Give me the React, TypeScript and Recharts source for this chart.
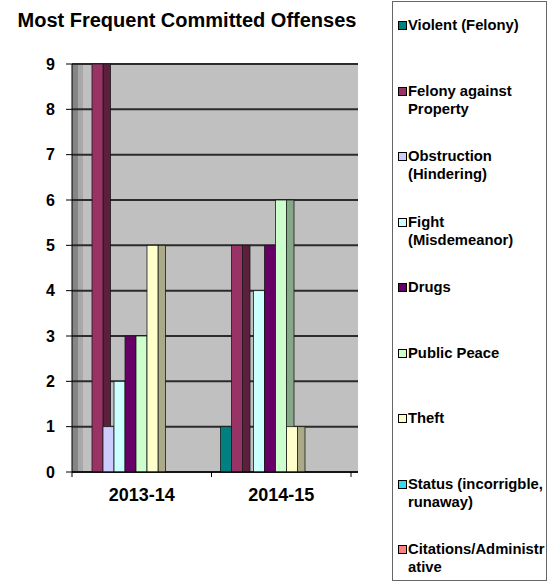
import React from "react";
import { BarChart, Bar, XAxis, YAxis, CartesianGrid } from "recharts";

// values
const periods = ["2013-14", "2014-15"];
const violent = [0, 1];
const felonyProperty = [9, 5];
const obstruction = [1, 0];
const fight = [2, 4];
const drugs = [3, 5];
const publicPeace = [3, 6];
const theft = [5, 1];
const status = [0, 0];
const citations = [0, 0];
const yTicks = [0, 1, 2, 3, 4, 5, 6, 7, 8, 9];

const series = [
  { key: "violent", name: "Violent (Felony)", values: violent, color: "#008080", side: "#004d4d" },
  { key: "felony", name: "Felony against Property", values: felonyProperty, color: "#993366", side: "#5c1f3d" },
  { key: "obstruction", name: "Obstruction (Hindering)", values: obstruction, color: "#ccccff", side: "#7a7a99" },
  { key: "fight", name: "Fight (Misdemeanor)", values: fight, color: "#ccffff", side: "#7a9999" },
  { key: "drugs", name: "Drugs", values: drugs, color: "#660066", side: "#3d003d" },
  { key: "peace", name: "Public Peace", values: publicPeace, color: "#ccffcc", side: "#86a886" },
  { key: "theft", name: "Theft", values: theft, color: "#ffffcc", side: "#aaaa88" },
  { key: "status", name: "Status (incorrigble, runaway)", values: status, color: "#33ddee", side: "#1f8490" },
  { key: "citations", name: "Citations/Administrative", values: citations, color: "#ff8080", side: "#994d4d" },
];

const data = periods.map((period, i) => {
  const row: Record<string, any> = { period };
  series.forEach((s) => {
    row[s.key] = s.values[i];
  });
  return row;
});

const FONT = '"Liberation Sans", Arial, sans-serif';
const W = 558;
const H = 584;
const PLOT_LEFT = 72;
const PLOT_RIGHT = 358;
const PLOT_TOP = 64;
const PLOT_BOTTOM = 472;
const PAD_RIGHT = 7;
const BAND = (PLOT_RIGHT - PAD_RIGHT - PLOT_LEFT) / periods.length;
const SHIFT = 11; // front faces sit a little left of the floor ticks
const DEPTH = 7.5;

const Bar3D = (props: any) => {
  const { x, y, width, height, fill, side } = props;
  if (!height || height <= 0) return null;
  const fx = x - SHIFT;
  return (
    <g>
      <rect x={fx + width} y={y} width={DEPTH} height={height} fill={side} stroke="#1a1a1a" strokeWidth={0.8} />
      <rect x={fx} y={y} width={width} height={height} fill={fill} stroke="#1a1a1a" strokeWidth={0.8} />
    </g>
  );
};

const PeriodTick = (props: any) => {
  const { x, payload } = props;
  return (
    <g>
      <line x1={x - BAND / 2} x2={x - BAND / 2} y1={PLOT_BOTTOM} y2={PLOT_BOTTOM + 5} stroke="#000" />
      <line x1={x + BAND / 2} x2={x + BAND / 2} y1={PLOT_BOTTOM} y2={PLOT_BOTTOM + 5} stroke="#000" />
      <text x={x} y={PLOT_BOTTOM + 29} textAnchor="middle" fontSize={18} fontWeight="bold" fill="#000" fontFamily={FONT}>
        {payload.value}
      </text>
    </g>
  );
};

const LegendBox = () => (
  <div
    style={{
      position: "absolute",
      left: 392,
      top: 1,
      width: 155,
      height: 580,
      border: "1.5px solid #666",
      boxSizing: "border-box",
      background: "#fff",
      fontFamily: FONT,
      fontWeight: "bold",
      fontSize: 14.8,
      lineHeight: "18px",
      color: "#000",
    }}
  >
    {series.map((s, i) => (
      <div key={s.key} style={{ position: "absolute", left: 0, top: 14 + i * 65.5, width: 155 }}>
        <span
          style={{
            position: "absolute",
            left: 5,
            top: 5,
            width: 7,
            height: 7,
            background: s.color,
            border: "1px solid #000",
          }}
        />
        <div style={{ marginLeft: 15, width: 138, overflowWrap: "anywhere" }}>{s.name}</div>
      </div>
    ))}
  </div>
);

const App = () => {
  return (
    <div style={{ position: "absolute", left: 0, top: 0, width: W, height: H, background: "#fff" }}>
      <div
        style={{
          position: "absolute",
          left: 0,
          top: 8,
          width: 374,
          textAlign: "center",
          fontFamily: FONT,
          fontWeight: "bold",
          fontSize: 20,
          lineHeight: "24px",
          color: "#000",
        }}
      >
        Most Frequent Committed Offenses
      </div>
      <BarChart
        width={W}
        height={H}
        data={data}
        margin={{ top: PLOT_TOP, right: W - PLOT_RIGHT, bottom: H - PLOT_BOTTOM - 30, left: 0 }}
        barGap={0}
        barSize={11}
      >
        <defs>
          <linearGradient id="wall" x1="0" y1="0" x2="1" y2="0">
            <stop offset="0%" stopColor="#858585" />
            <stop offset="2.1%" stopColor="#858585" />
            <stop offset="2.1%" stopColor="#a8a8a8" />
            <stop offset="3.8%" stopColor="#a8a8a8" />
            <stop offset="3.8%" stopColor="#c0c0c0" />
            <stop offset="100%" stopColor="#c0c0c0" />
          </linearGradient>
        </defs>
        <CartesianGrid vertical={false} stroke="#2b2b2b" strokeWidth={2} fill="url(#wall)" fillOpacity={1} />
        <XAxis
          dataKey="period"
          height={30}
          padding={{ left: 0, right: PAD_RIGHT }}
          axisLine={{ stroke: "#000" }}
          tickLine={false}
          interval={0}
          tick={<PeriodTick />}
        />
        <YAxis
          width={PLOT_LEFT}
          domain={[0, 9]}
          ticks={yTicks}
          interval={0}
          axisLine={{ stroke: "#000" }}
          tickLine={{ stroke: "#000" }}
          tickSize={6}
          tickMargin={11}
          tick={{ fontSize: 16, fontWeight: "bold", fill: "#000", fontFamily: FONT }}
        />
        {series.map((s) => (
          <Bar
            key={s.key}
            dataKey={s.key}
            name={s.name}
            fill={s.color}
            isAnimationActive={false}
            shape={(p: any) => <Bar3D {...p} side={s.side} />}
          />
        ))}
      </BarChart>
      <LegendBox />
    </div>
  );
};

export default App;
